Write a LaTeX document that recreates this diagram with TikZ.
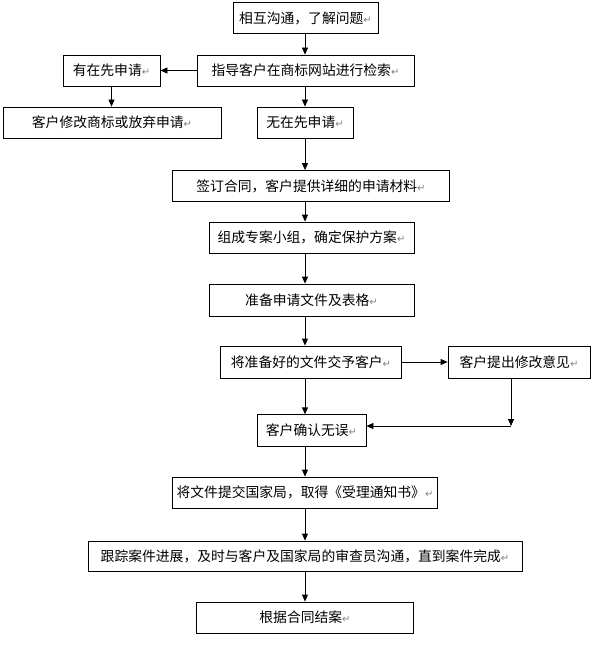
\documentclass[tikz,border=0pt]{standalone}
\usepackage{fontspec}
\usetikzlibrary{arrows.meta}
\newfontfamily\cjk{Noto Sans CJK SC}
\newfontfamily\dejavu{DejaVu Sans}
\newcommand\pmark{{\dejavu\fontsize{10}{10}\selectfont\textcolor{gray}{↵}}}
\begin{document}
\begin{tikzpicture}[x=1pt,y=-1pt,
  box/.style={draw, line width=0.8pt, inner sep=0pt, font=\cjk\fontsize{13.8}{14}\selectfont},
  arr/.style={line width=0.8pt, -{Triangle[length=7pt,width=6pt]}}]
\useasboundingbox (0,0) rectangle (595,666);
\coordinate (col) at (305,0);
\node[box, minimum width=145pt, minimum height=31pt] (n1) at (305.5,18) {相互沟通，了解问题\pmark};
\node[box, minimum width=217pt, minimum height=31pt] (n2) at (305.5,70.5) {指导客户在商标网站进行检索\pmark};
\node[box, minimum width=97pt, minimum height=31pt] (yes) at (111.5,70.5) {有在先申请\pmark};
\node[box, minimum width=218pt, minimum height=31pt] (mod) at (112,122.5) {客户修改商标或放弃申请\pmark};
\node[box, minimum width=96pt, minimum height=31pt] (no) at (305,122.5) {无在先申请\pmark};
\node[box, minimum width=277pt, minimum height=31pt] (sign) at (311,186) {签订合同，客户提供详细的申请材料\pmark};
\node[box, minimum width=205pt, minimum height=31pt] (team) at (311.5,237.5) {组成专案小组，确定保护方案\pmark};
\node[box, minimum width=205pt, minimum height=32pt] (prep) at (311.5,300) {准备申请文件及表格\pmark};
\node[box, minimum width=181pt, minimum height=32pt] (give) at (311,362) {将准备好的文件交予客户\pmark};
\node[box, minimum width=142pt, minimum height=32pt] (fb) at (519,362) {客户提出修改意见\pmark};
\node[box, minimum width=109pt, minimum height=31.5pt] (ok) at (311.5,430.5) {客户确认无误\pmark};
\node[box, minimum width=265pt, minimum height=31pt] (submit) at (305,492.5) {将文件提交国家局，取得《受理通知书》\pmark};
\node[box, minimum width=434pt, minimum height=30pt] (track) at (305,556) {跟踪案件进展，及时与客户及国家局的审查员沟通，直到案件完成\pmark};
\node[box, minimum width=217pt, minimum height=31pt] (close) at (305,617.5) {根据合同结案\pmark};
\draw[arr] (n1.south -| col) -- (n2.north -| col);
\draw[arr] (n2.west) -- (yes.east);
\draw[arr] (yes.south) -- (yes.south |- mod.north);
\draw[arr] (n2.south -| col) -- (no.north -| col);
\draw[arr] (no.south -| col) -- (sign.north -| col);
\draw[arr] (sign.south -| col) -- (team.north -| col);
\draw[arr] (team.south -| col) -- (prep.north -| col);
\draw[arr] (prep.south -| col) -- (give.north -| col);
\draw[arr] (give.east) -- (fb.west);
\draw[arr] (give.south -| col) -- (ok.north -| col);
\coordinate (corner) at (511,426);
\draw[arr] (corner |- fb.south) -- (corner);
\draw[arr] (corner) -- (corner -| ok.east);
\draw[arr] (ok.south -| col) -- (submit.north -| col);
\draw[arr] (submit.south -| col) -- (track.north -| col);
\draw[arr] (track.south -| col) -- (close.north -| col);
\end{tikzpicture}
\end{document}
